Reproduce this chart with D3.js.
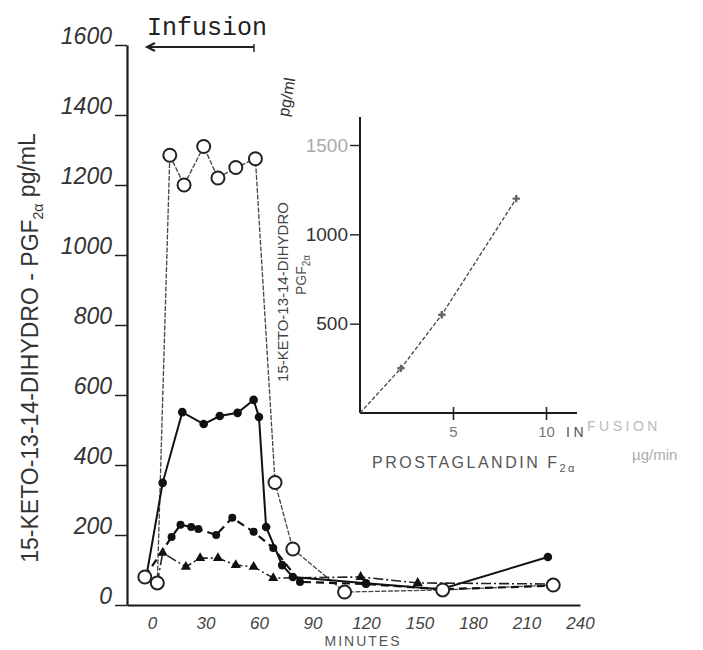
<!DOCTYPE html>
<html>
<head>
<meta charset="utf-8">
<script src="https://cdn.jsdelivr.net/npm/d3@7"></script>
<style>
    body { margin: 0; background: #fff; }
    svg text { font-family: "Liberation Sans", sans-serif; fill: #2a2a2a; }
</style>
</head>
<body>
<div id="chart"></div>
<script>
// main chart: minutes vs 15-keto-13,14-dihydro-PGF2a (pg/mL)
const yTicks = [0, 200, 400, 600, 800, 1000, 1200, 1400, 1600];
const xTicks = [0, 30, 60, 90, 120, 150, 180, 210, 240];
const infusionPeriod = [0, 60];

// open circles
const openMinutes = [-4, 3, 10, 18, 29, 37, 47, 58, 69, 79, 108, 163, 225];
const openValues  = [80, 63, 1285, 1200, 1310, 1220, 1250, 1275, 350, 160, 37, 43, 57];

// filled dots, solid line
const dotMinutes = [-3, 6, 17, 29, 38, 48, 57, 60, 64, 73, 79, 120, 162, 222];
const dotValues  = [86, 349, 551, 517, 540, 549, 586, 537, 223, 114, 80, 62, 45, 137];

// filled dots, dashed line
const dashMinutes = [-4, 11, 16, 22, 26, 36, 45, 57, 68, 83, 120, 162, 225];
const dashValues  = [80, 194, 229, 223, 217, 200, 249, 209, 163, 66, 60, 45, 55];

// triangles, dash-dot line
const triMinutes = [3, 6, 19, 27, 37, 47, 57, 68, 117, 149, 225];
const triValues  = [63, 149, 109, 134, 134, 114, 109, 77, 80, 63, 60];

// inset: infusion rate (ug/min) vs plasma level (pg/ml)
const insetRate   = [0, 2.2, 4.4, 8.4];
const insetLevel  = [0, 250, 550, 1200];
const insetXTicks = [5, 10];
const insetYTicks = [500, 1000, 1500];

function zip(a, b) {
    return a.map(function(v, i) { return [v, b[i]]; });
}

let svg = d3.select("#chart")
    .append("svg")
    .attr("width", 703)
    .attr("height", 650);

// set the ranges
let x = d3.scaleLinear().domain([-14, 240]).range([127, 580]);
let y = d3.scaleLinear().domain([0, 1600]).range([605, 45]);

// Y axis
let yAxis = svg.append("g")
    .attr("transform", "translate(127,0)")
    .call(d3.axisLeft(y).tickValues(yTicks).tickFormat(d3.format("d"))
        .tickSizeInner(12).tickSizeOuter(0).tickPadding(3));
yAxis.select(".domain").attr("stroke", "#1a1a1a").attr("stroke-width", 2.2);
yAxis.selectAll(".tick line").attr("stroke", "#222").attr("stroke-width", 1.5);
yAxis.selectAll(".tick text")
    .attr("dy", "-0.05em")
    .style("font-size", "23px")
    .style("font-style", "italic")
    .style("fill", "#333");

// X axis
let xAxis = svg.append("g")
    .attr("transform", "translate(0,605)")
    .call(d3.axisBottom(x).tickValues(xTicks).tickSize(0).tickPadding(12));
xAxis.select(".domain").attr("stroke", "#1a1a1a").attr("stroke-width", 2.2);
xAxis.selectAll(".tick text")
    .style("font-size", "17px")
    .style("font-style", "italic")
    .style("fill", "#444");

svg.append("text")
    .attr("x", 363).attr("y", 646)
    .attr("text-anchor", "middle")
    .style("font-size", "14px")
    .style("letter-spacing", "2px")
    .style("fill", "#555")
    .text("MINUTES");

// y label
let yLab = svg.append("text")
    .attr("transform", "translate(38,348) rotate(-90)")
    .attr("text-anchor", "middle")
    .style("font-size", "23px")
    .style("fill", "#333");
yLab.append("tspan").text("15-KETO-13-14-DIHYDRO - PGF");
yLab.append("tspan").attr("dy", "0.35em").style("font-size", "14px").text("2α");
yLab.append("tspan").attr("dy", "-0.35em").text("  pg/mL");

// infusion marker
svg.append("text")
    .attr("x", x(infusionPeriod[0]) - 5).attr("y", 35)
    .style("font-family", "'Liberation Mono', monospace")
    .style("font-size", "25px")
    .style("fill", "#222")
    .text("Infusion");
svg.append("line")
    .attr("x1", x(infusionPeriod[0]) - 5).attr("x2", x(infusionPeriod[1]) - 5)
    .attr("y1", 47).attr("y2", 47)
    .attr("stroke", "#222").attr("stroke-width", 2);
svg.append("path")
    .attr("d", d3.line()([[x(infusionPeriod[0]) + 3, 43], [x(infusionPeriod[0]) - 5, 47], [x(infusionPeriod[0]) + 3, 51]]))
    .attr("fill", "none").attr("stroke", "#222").attr("stroke-width", 2);
svg.append("line")
    .attr("x1", x(infusionPeriod[1]) - 5).attr("x2", x(infusionPeriod[1]) - 5)
    .attr("y1", 44).attr("y2", 52)
    .attr("stroke", "#222").attr("stroke-width", 1.5);

// valuelines
let valueline = d3.line()
    .x(function(d) { return x(d[0]); })
    .y(function(d) { return y(d[1]); });

let series = [
    {data: zip(openMinutes, openValues), width: 1.3, dash: "5,1.5", color: "#444"},
    {data: zip(triMinutes, triValues), width: 1.6, dash: "10,3,2,3", color: "#222"},
    {data: zip(dashMinutes, dashValues), width: 2.2, dash: "8,5", color: "#111"},
    {data: zip(dotMinutes, dotValues), width: 2, dash: null, color: "#111"}
];
for (let i = 0; i < series.length; i++) {
    svg.append("path")
        .data([series[i].data])
        .attr("fill", "none")
        .attr("stroke", series[i].color)
        .attr("stroke-width", series[i].width)
        .attr("stroke-dasharray", series[i].dash)
        .attr("d", valueline);
}

// markers
svg.selectAll(".tri")
    .data(zip(triMinutes, triValues))
    .enter().append("path")
    .attr("class", "tri")
    .attr("transform", function(d) { return "translate(" + x(d[0]) + "," + y(d[1]) + ")"; })
    .attr("d", d3.symbol(d3.symbolTriangle).size(45))
    .attr("fill", "#111");

svg.selectAll(".dashdot")
    .data(zip(dashMinutes, dashValues).slice(1))
    .enter().append("circle")
    .attr("class", "dashdot")
    .attr("cx", function(d) { return x(d[0]); })
    .attr("cy", function(d) { return y(d[1]); })
    .attr("r", 4)
    .attr("fill", "#111");

svg.selectAll(".dot")
    .data(zip(dotMinutes, dotValues).slice(1))
    .enter().append("circle")
    .attr("class", "dot")
    .attr("cx", function(d) { return x(d[0]); })
    .attr("cy", function(d) { return y(d[1]); })
    .attr("r", 4.3)
    .attr("fill", "#111");

svg.selectAll(".open")
    .data(zip(openMinutes, openValues))
    .enter().append("circle")
    .attr("class", "open")
    .attr("cx", function(d) { return x(d[0]); })
    .attr("cy", function(d) { return y(d[1]); })
    .attr("r", 6.5)
    .attr("fill", "#fff")
    .attr("stroke", "#222")
    .attr("stroke-width", 2);

// ---- inset ----
let ix = d3.scaleLinear().domain([0, 10]).range([360, 546]);
let iy = d3.scaleLinear().domain([0, 1500]).range([413, 145]);

let iyAxis = svg.append("g")
    .attr("transform", "translate(360,0)")
    .call(d3.axisLeft(iy).tickValues(insetYTicks).tickFormat(d3.format("d"))
        .tickSizeInner(10).tickSizeOuter(0).tickPadding(2));
iyAxis.select(".domain").attr("d", "M0," + iy(0) + "V117").attr("stroke", "#1a1a1a").attr("stroke-width", 2);
iyAxis.selectAll(".tick line").attr("stroke", "#222").attr("stroke-width", 1.4);
iyAxis.selectAll(".tick text").style("font-size", "19px").style("fill", "#333");
iyAxis.selectAll(".tick text").filter(function(d) { return d === 1500; }).style("fill", "#aaa");

let ixAxis = svg.append("g")
    .attr("transform", "translate(0," + iy(0) + ")")
    .call(d3.axisBottom(ix).tickValues(insetXTicks).tickSizeInner(7).tickSizeOuter(0).tickPadding(6));
ixAxis.select(".domain").attr("d", "M" + ix(0) + ",0H577").attr("stroke", "#1a1a1a").attr("stroke-width", 2);
ixAxis.selectAll(".tick line").attr("y1", -6).attr("stroke", "#222").attr("stroke-width", 1.6);
ixAxis.selectAll(".tick text").style("font-size", "15px").style("fill", "#777");

svg.append("path")
    .data([zip(insetRate, insetLevel)])
    .attr("fill", "none")
    .attr("stroke", "#444")
    .attr("stroke-width", 1.3)
    .attr("stroke-dasharray", "4,2")
    .attr("d", d3.line().x(function(d) { return ix(d[0]); }).y(function(d) { return iy(d[1]); }));

svg.selectAll(".ipt")
    .data(zip(insetRate, insetLevel).slice(1))
    .enter().append("path")
    .attr("class", "ipt")
    .attr("transform", function(d) { return "translate(" + ix(d[0]) + "," + iy(d[1]) + ")"; })
    .attr("d", d3.symbol(d3.symbolCross).size(30))
    .attr("fill", "#666");

// inset labels
svg.append("text")
    .attr("transform", "translate(288,292) rotate(-90)")
    .attr("text-anchor", "middle")
    .style("font-size", "15px")
    .style("fill", "#444")
    .text("15-KETO-13-14-DIHYDRO");
let ipg = svg.append("text")
    .attr("transform", "translate(306,275) rotate(-90)")
    .attr("text-anchor", "middle")
    .style("font-size", "14px")
    .style("fill", "#555");
ipg.append("tspan").text("PGF");
ipg.append("tspan").attr("dy", "0.35em").style("font-size", "10px").text("2α");
svg.append("text")
    .attr("transform", "translate(292,98) rotate(-80)")
    .attr("text-anchor", "middle")
    .style("font-size", "16px")
    .style("fill", "#333")
    .text("pg/ml");

let ixLab = svg.append("text")
    .attr("x", 372).attr("y", 468)
    .style("font-size", "16px")
    .style("letter-spacing", "2.5px")
    .style("fill", "#555");
ixLab.append("tspan").text("PROSTAGLANDIN F");
ixLab.append("tspan").attr("dy", "0.4em").style("font-size", "11px").text("2α");

let inf = svg.append("text")
    .attr("x", 566).attr("y", 437)
    .style("font-size", "14px")
    .style("letter-spacing", "3.5px");
inf.append("tspan").style("fill", "#555").text("IN");
inf.append("tspan").attr("dy", "-6").style("fill", "#bbb").text("FUSION");

svg.append("text")
    .attr("x", 632).attr("y", 460)
    .style("font-size", "15px")
    .style("fill", "#aaa")
    .text("µg/min");
</script>
</body>
</html>
